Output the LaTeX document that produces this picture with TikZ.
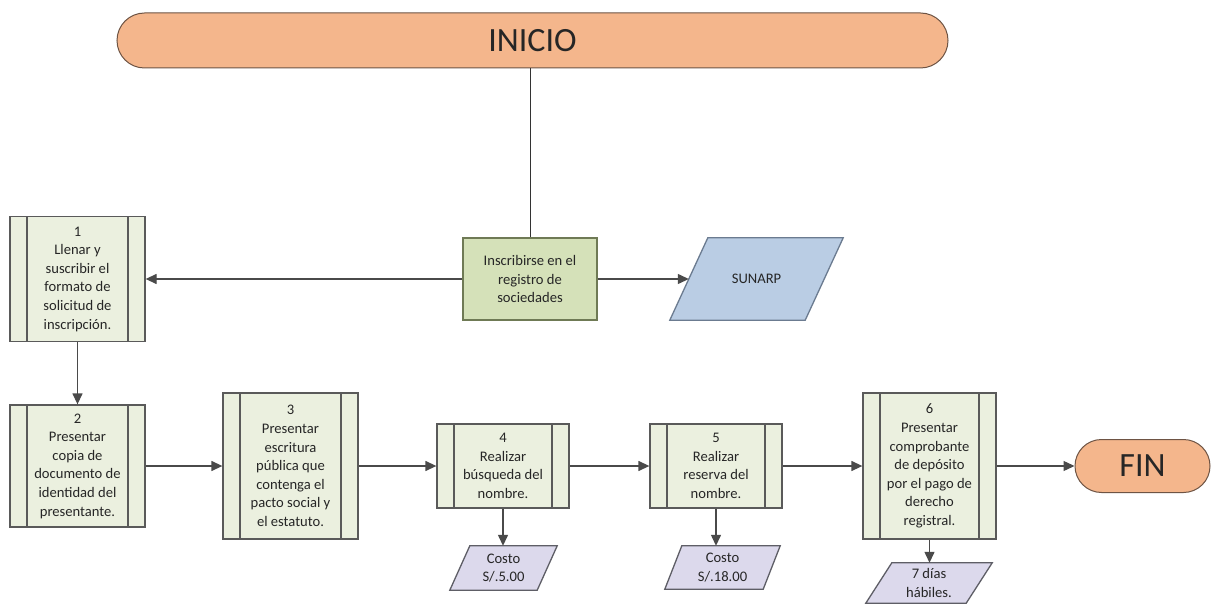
\documentclass[tikz,border=0pt]{standalone}
\usepackage{fontspec}
\setmainfont{Carlito}
\usetikzlibrary{arrows.meta,calc}
\definecolor{pillfill}{HTML}{F4B68C}
\definecolor{pilldraw}{HTML}{6E5444}
\definecolor{procfill}{HTML}{EBF0DF}
\definecolor{procdraw}{HTML}{5A5A5A}
\definecolor{greenfill}{HTML}{D5E1B9}
\definecolor{greendraw}{HTML}{6F7A55}
\definecolor{bluefill}{HTML}{BACDE4}
\definecolor{bluedraw}{HTML}{6B7B90}
\definecolor{lavfill}{HTML}{DCD9EC}
\definecolor{lavdraw}{HTML}{5E5E66}
\definecolor{conncol}{HTML}{4A4A4A}
\definecolor{txtcol}{HTML}{262626}
\pgfdeclarelayer{bg}
\pgfsetlayers{bg,main}
\tikzset{
  txt/.style={font=\fontsize{14.6}{18.6}\selectfont, text=txtcol, align=center, inner sep=0pt},
  procbox/.style={txt, draw=procdraw, fill=procfill, line width=1.3pt,
    path picture={
      \draw[procdraw, line width=1.3pt]
        ([xshift=17pt]path picture bounding box.north west) -- ([xshift=17pt]path picture bounding box.south west)
        ([xshift=-17pt]path picture bounding box.north east) -- ([xshift=-17pt]path picture bounding box.south east);
    }},
  pill/.style={draw=pilldraw, fill=pillfill, line width=1pt, text=black!85,
    font=\fontsize{34}{40}\selectfont, inner sep=0pt},
  greenbox/.style={txt, draw=greendraw, fill=greenfill, line width=1.3pt},
  paratext/.style={txt},
  parashape/.style={line width=1.3pt},
  conn/.style={draw=conncol, line width=1.3pt, -{Triangle[length=11pt,width=10pt]}},
  plainline/.style={draw=black!80, line width=0.9pt},
}
\begin{document}
\begin{tikzpicture}[x=1pt,y=-1pt]
\useasboundingbox (0,0) rectangle (1218,604);

% start / end
\node[pill, rounded corners=27.5pt, minimum width=831pt, minimum height=55pt] (inicio) at (532.5,40.5) {INICIO};
\node[pill, rounded corners=26.5pt, minimum width=135pt, minimum height=53pt] (fin) at (1142.5,466) {FIN};

% central step
\node[greenbox, minimum width=134pt, minimum height=82pt] (g) at (530,279) {Inscribirse en el\\registro de\\sociedades};

% process boxes
\node[procbox, minimum width=135pt, minimum height=125pt] (b1) at (77.5,279)
  {1\\Llenar y\\suscribir el\\formato de\\solicitud de\\inscripción.};
\node[procbox, minimum width=135pt, minimum height=122pt] (b2) at (77.5,466)
  {2\\Presentar\\copia de\\documento de\\identidad del\\presentante.};
\node[procbox, minimum width=135pt, minimum height=146pt] (b3) at (290.5,466)
  {3\\Presentar\\escritura\\pública que\\contenga el\\pacto social y\\el estatuto.};
\node[procbox, minimum width=132pt, minimum height=84pt] (b4) at (503,466)
  {4\\Realizar\\búsqueda del\\nombre.};
\node[procbox, minimum width=132pt, minimum height=84pt] (b5) at (716,466)
  {5\\Realizar\\reserva del\\nombre.};
\node[procbox, minimum width=133pt, minimum height=146pt] (b6) at (929.5,466)
  {6\\Presentar\\comprobante\\de depósito\\por el pago de\\derecho\\registral.};

% data (parallelogram) nodes: text nodes, shapes drawn on background layer
\node[paratext, minimum width=173pt, minimum height=82pt] (sun) at (756.5,279) {SUNARP};
\node[paratext, minimum width=107pt, minimum height=44pt] (c1) at (503.5,568) {Costo\\S/.5.00};
\node[paratext, minimum width=115pt, minimum height=43pt] (c2) at (722.5,567.5) {Costo\\S/.18.00};
\node[paratext, minimum width=126pt, minimum height=40pt] (d6) at (929,583) {7 días\\hábiles.};

\begin{pgfonlayer}{bg}
  \fill[white] (0,0) rectangle (1218,604);
  \draw[parashape, fill=bluefill, draw=bluedraw]
    ([xshift=38pt]sun.north west) -- (sun.north east) -- ([xshift=-38pt]sun.south east) -- (sun.south west) -- cycle;
  \draw[parashape, fill=lavfill, draw=lavdraw]
    ([xshift=20pt]c1.north west) -- (c1.north east) -- ([xshift=-20pt]c1.south east) -- (c1.south west) -- cycle;
  \draw[parashape, fill=lavfill, draw=lavdraw]
    ([xshift=17pt]c2.north west) -- (c2.north east) -- ([xshift=-17pt]c2.south east) -- (c2.south west) -- cycle;
  \draw[parashape, fill=lavfill, draw=lavdraw]
    ([xshift=26pt]d6.north west) -- (d6.north east) -- ([xshift=-26pt]d6.south east) -- (d6.south west) -- cycle;
\end{pgfonlayer}

\coordinate (sunL) at ($(sun.west)+(19,0)$);

% connectors
\draw[plainline] (g.north |- inicio.south) -- (g.north);
\draw[conn] (g.west) -- (b1.east);
\draw[conn] (g.east) -- (sunL);
\draw[conn] (b1.south) -- (b2.north);
\draw[conn] (b2.east) -- (b3.west);
\draw[conn] (b3.east) -- (b4.west);
\draw[conn] (b4.east) -- (b5.west);
\draw[conn] (b5.east) -- (b6.west);
\draw[conn] (b6.east) -- (fin.west);
\draw[conn] (b4.south) -- (b4.south |- c1.north);
\draw[conn] (b5.south) -- (b5.south |- c2.north);
\draw[conn] (b6.south) -- (b6.south |- d6.north);
\end{tikzpicture}
\end{document}
